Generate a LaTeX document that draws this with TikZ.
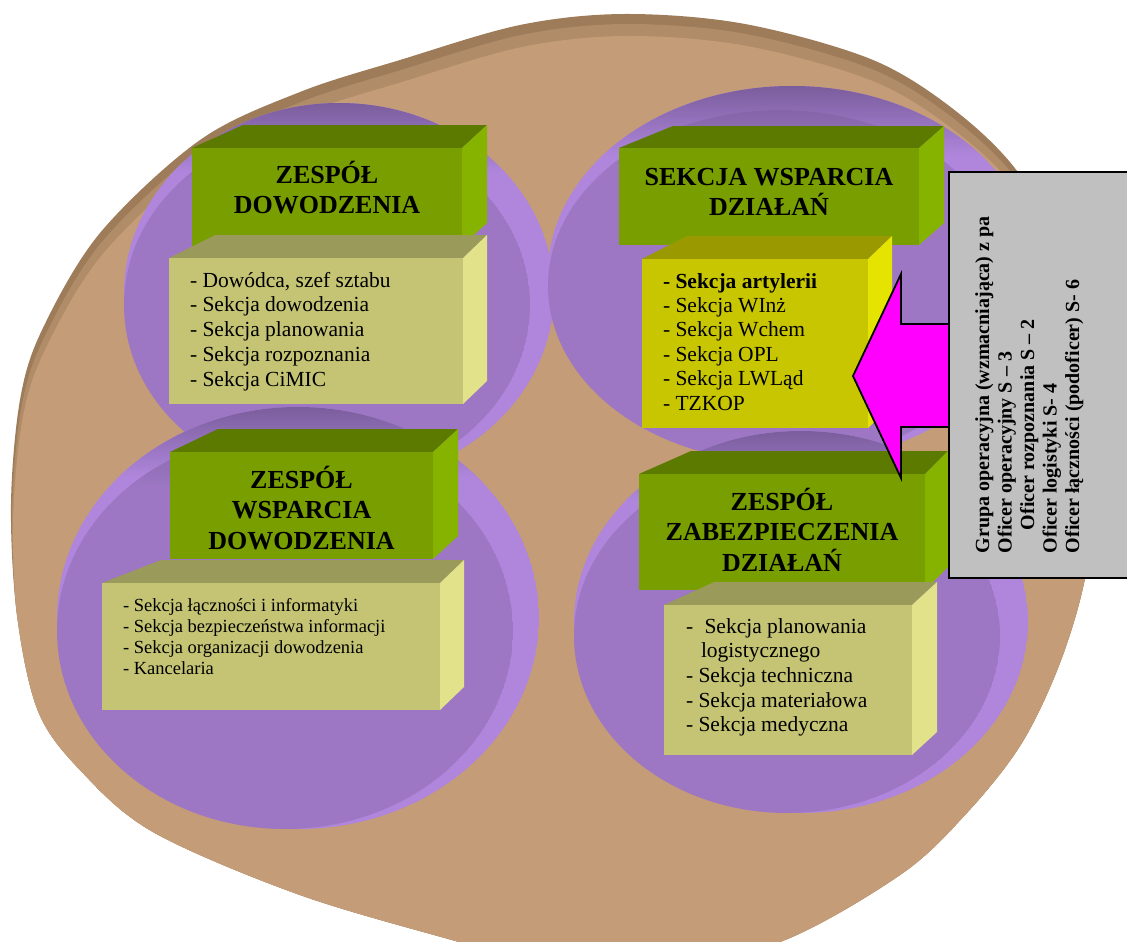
\documentclass[tikz,border=0pt]{standalone}
\usepackage{fontspec}
\setmainfont{Liberation Serif}
\definecolor{brownD}{HTML}{9E7B59}
\definecolor{brownH}{HTML}{B18C69}
\definecolor{brownM}{HTML}{C49C77}
\definecolor{purM}{HTML}{9D77C3}
\definecolor{purR}{HTML}{AF86DC}
\definecolor{purD}{HTML}{7A5D9C}
\definecolor{gF}{HTML}{789E00}
\definecolor{gT}{HTML}{5C7A00}
\definecolor{gR}{HTML}{86B200}
\definecolor{kF}{HTML}{C4C474}
\definecolor{kT}{HTML}{9A9A5A}
\definecolor{kR}{HTML}{E2E28A}
\definecolor{yF}{HTML}{C8C600}
\definecolor{yT}{HTML}{9A9A00}
\definecolor{yR}{HTML}{E4E400}
\definecolor{grayBox}{HTML}{C0C0C0}
\definecolor{mag}{HTML}{FF00FF}
\newcommand\ttlfont{\fontsize{26}{30.7}\selectfont\bfseries}
\newcommand\purpledisc[5]{%
  \begin{scope}
    \clip ({#1+#5},{#2-#5}) ellipse [x radius={#3+#5}, y radius={#4+#5}];
    \fill[purR] ({#1+#5},{#2-#5}) ellipse [x radius={#3+#5}, y radius={#4+#5}];
    \shade[top color=purD, bottom color=purR] ({#1-#3-5},{#2-#4-2*#5-1}) rectangle ({#1+#3+2*#5+5},{#2-#4-2*#5+70});
  \end{scope}
  \begin{scope}
    \clip (#1,#2) ellipse [x radius=#3, y radius=#4];
    \fill[purM] (#1,#2) ellipse [x radius=#3, y radius=#4];
    \shade[top color=purD!70!purM, bottom color=purM] ({#1-#3-1},{#2-#4-1}) rectangle ({#1+#3+1},{#2-#4+55});
  \end{scope}
}
\newcommand\cuboid[8]{%
  \fill[#8T] (#1,#2) -- ({#1+#5},{#2-#7}) -- ({#3+#6},{#2-#7}) -- (#3,#2) -- cycle;
  \fill[#8R] (#3,#2) -- ({#3+#6},{#2-#7}) -- ({#3+#6},{#4-#7}) -- (#3,#4) -- cycle;
  \fill[#8F] (#1,#2) rectangle (#3,#4);
}
\begin{document}
\begin{tikzpicture}[x=1pt,y=-1pt, txt/.style={inner sep=0pt, outer sep=0pt, text=black}]
\useasboundingbox (0,0) rectangle (1127,942);
\clip (0,0) rectangle (1127,942);
\fill[white] (0,0) rectangle (1127,942);
% brown disc
\fill[brownD] plot[smooth cycle, tension=0.55] coordinates {(625,14) (745,24) (873,60) (957,112) (1020,175) (1062,260) (1090,370) (1098,480) (1084,583) (1058,668) (1020,746) (965,815) (900,875) (780,942) (650,970) (530,962) (459,942) (300,895) (153,832) (80,770) (38,711) (17,615) (11,504) (20,400) (42,330) (100,233) (200,140) (300,92) (400,60) (520,25)};
\begin{scope}
\clip plot[smooth cycle, tension=0.55] coordinates {(625,14) (745,24) (873,60) (957,112) (1020,175) (1062,260) (1090,370) (1098,480) (1084,583) (1058,668) (1020,746) (965,815) (900,875) (780,942) (650,970) (530,962) (459,942) (300,895) (153,832) (80,770) (38,711) (17,615) (11,504) (20,400) (42,330) (100,233) (200,140) (300,92) (400,60) (520,25)};
\fill[brownH, shift={(1,10)}] plot[smooth cycle, tension=0.55] coordinates {(625,14) (745,24) (873,60) (957,112) (1020,175) (1062,260) (1090,370) (1098,480) (1084,583) (1058,668) (1020,746) (965,815) (900,875) (780,942) (650,970) (530,962) (459,942) (300,895) (153,832) (80,770) (38,711) (17,615) (11,504) (20,400) (42,330) (100,233) (200,140) (300,92) (400,60) (520,25)};
\fill[brownM, shift={(2,22)}] plot[smooth cycle, tension=0.55] coordinates {(625,14) (745,24) (873,60) (957,112) (1020,175) (1062,260) (1090,370) (1098,480) (1084,583) (1058,668) (1020,746) (965,815) (900,875) (780,942) (650,970) (530,962) (459,942) (300,895) (153,832) (80,770) (38,711) (17,615) (11,504) (20,400) (42,330) (100,233) (200,140) (300,92) (400,60) (520,25)};
\end{scope}
% purple discs
\purpledisc{327}{305}{203}{178}{12}
\purpledisc{780}{286}{232}{176}{12}
\purpledisc{285}{631}{228}{198}{13}
\purpledisc{787}{636}{213}{177}{14}
% cuboids
\cuboid{192}{148}{462}{246}{51}{25}{23}{g}
\cuboid{169}{258}{463}{404}{46}{24}{23}{k}
\cuboid{619}{148}{919}{245}{54}{25}{22}{g}
\cuboid{642}{259}{868}{428}{45}{24}{23}{y}
\cuboid{170}{452}{433}{559}{48}{25}{23}{g}
\cuboid{102}{583}{440}{710}{59}{24}{23}{k}
\cuboid{639}{474}{925}{590}{52}{23}{23}{g}
\cuboid{664}{605}{912}{755}{50}{25}{23}{k}
% titles
\node[txt, anchor=base] (t1) at (327,183) {\parbox[t]{300pt}{\centering\ttlfont ZESPÓŁ\\DOWODZENIA}};
\node[txt, anchor=base] (t2) at (769,185) {\parbox[t]{320pt}{\centering\ttlfont SEKCJA WSPARCIA\\DZIAŁAŃ}};
\node[txt, anchor=base] (t3) at (301.5,488) {\parbox[t]{300pt}{\centering\ttlfont ZESPÓŁ\\WSPARCIA\\DOWODZENIA}};
\node[txt, anchor=base] (t4) at (782,510) {\parbox[t]{320pt}{\centering\ttlfont ZESPÓŁ\\ZABEZPIECZENIA\\DZIAŁAŃ}};
% bodies
\node[txt, anchor=base west] (b1) at (190,287) {\parbox[t]{300pt}{\raggedright\fontsize{21.5}{24.8}\selectfont - Dowódca, szef sztabu\\- Sekcja dowodzenia\\- Sekcja planowania\\- Sekcja rozpoznania\\- Sekcja CiMIC}};
\node[txt, anchor=base west] (b2) at (663,288) {\parbox[t]{300pt}{\raggedright\fontsize{21.5}{24.4}\selectfont \textbf{- Sekcja artylerii}\\- Sekcja WInż\\- Sekcja Wchem\\- Sekcja OPL\\- Sekcja LWLąd\\- TZKOP}};
\node[txt, anchor=base west] (b3) at (123,611) {\parbox[t]{340pt}{\raggedright\fontsize{18.5}{21.3}\selectfont - Sekcja łączności i informatyki\\- Sekcja bezpieczeństwa informacji\\- Sekcja organizacji dowodzenia\\- Kancelaria}};
\node[txt, anchor=base west] (b4) at (686,633) {\parbox[t]{300pt}{\raggedright\fontsize{21.5}{24.7}\selectfont -\hspace{6pt} Sekcja planowania\\\hspace*{15pt}logistycznego\\- Sekcja techniczna\\- Sekcja materiałowa\\- Sekcja medyczna}};
% arrow
\draw[line width=1.8pt, fill=mag, line join=miter] (950,324) -- (901,324) -- (901,274) -- (853,376) -- (901,478) -- (901,427) -- (950,427) -- cycle;
% gray box
\draw[line width=2.6pt, fill=grayBox] (949,172) rectangle (1150,578);
\node[txt, rotate=90, anchor=base west] (grp) at (989,553) {\parbox[t]{420pt}{\raggedright\fontsize{20}{22.5}\selectfont\bfseries Grupa operacyjna (wzmacniająca) z pa\\Oficer operacyjny S – 3\\\hspace*{23pt}Oficer rozpoznania S – 2\\Oficer logistyki S- 4\\Oficer łączności (podoficer) S- 6}};
\end{tikzpicture}
\end{document}
